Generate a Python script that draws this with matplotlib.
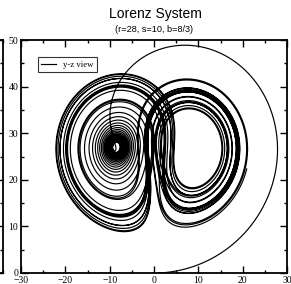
import numpy as np
import matplotlib
matplotlib.use("Agg")
import matplotlib.pyplot as plt
from matplotlib.ticker import MultipleLocator

# Lorenz parameters (from subtitle) and initial state
sigma = 10.0
rho = 28.0
beta = 8.0 / 3.0
state0 = [0.0, 1.0, 0.0]
t_end = 40.0
dt = 0.001

n = int(t_end / dt)
traj = np.empty((n + 1, 3))
x, y, z = state0
traj[0] = (x, y, z)
for i in range(n):
    dx = sigma * (y - x)
    dy = x * (rho - z) - y
    dz = x * y - beta * z
    x, y, z = x + dt * dx, y + dt * dy, z + dt * dz
    traj[i + 1] = (x, y, z)

y_vals = traj[:, 1]
z_vals = traj[:, 2]

title = "Lorenz System"
subtitle = "(r=28, s=10, b=8/3)"
legend_label = "y-z view"
xlim = (-30, 30)
ylim = (0, 50)

W, H = 291, 284
fig = plt.figure(figsize=(W / 100, H / 100), dpi=100)

serif = ["Liberation Serif", "DejaVu Serif"]
sans = ["Liberation Sans", "DejaVu Sans"]

def style_axes(ax):
    ax.set_xlim(*xlim)
    ax.set_ylim(*ylim)
    ax.xaxis.set_major_locator(MultipleLocator(10))
    ax.xaxis.set_minor_locator(MultipleLocator(5))
    ax.yaxis.set_major_locator(MultipleLocator(10))
    ax.yaxis.set_minor_locator(MultipleLocator(5))
    ax.tick_params(which="both", direction="in", top=True, right=True,
                   width=1.0, colors="black", labelsize=7, pad=2)
    ax.tick_params(which="major", length=5)
    ax.tick_params(which="minor", length=2.5)
    for sp in ax.spines.values():
        sp.set_linewidth(1.3)
    for lab in ax.get_xticklabels() + ax.get_yticklabels():
        lab.set_family(serif)

# fragment of neighbouring panel on the left
axl = fig.add_axes([(3 - 266) / W, 11 / H, 266 / W, 233 / H])
style_axes(axl)
axl.set_yticklabels([])
axl.set_xticks([20])
axl.set_xticklabels(["20"], family=serif)

ax = fig.add_axes([21 / W, 11 / H, 266 / W, 233 / H])
style_axes(ax)
ax.plot(y_vals, z_vals, color="black", lw=0.85, label=legend_label)

leg = ax.legend(loc="upper left", bbox_to_anchor=(0.063, 0.927), borderaxespad=0,
                frameon=True, fancybox=False, edgecolor="black",
                prop={"family": serif, "size": 6.3},
                handlelength=1.7, borderpad=0.4, handletextpad=0.8)
leg.get_frame().set_linewidth(0.8)

fig.text(155 / W, 1 - 14 / H, title, ha="center", va="center", fontsize=10, family=sans)
fig.text(154 / W, 1 - 30 / H, subtitle, ha="center", va="center", fontsize=6.6, family=sans)

fig.savefig("out.png", dpi=100)
